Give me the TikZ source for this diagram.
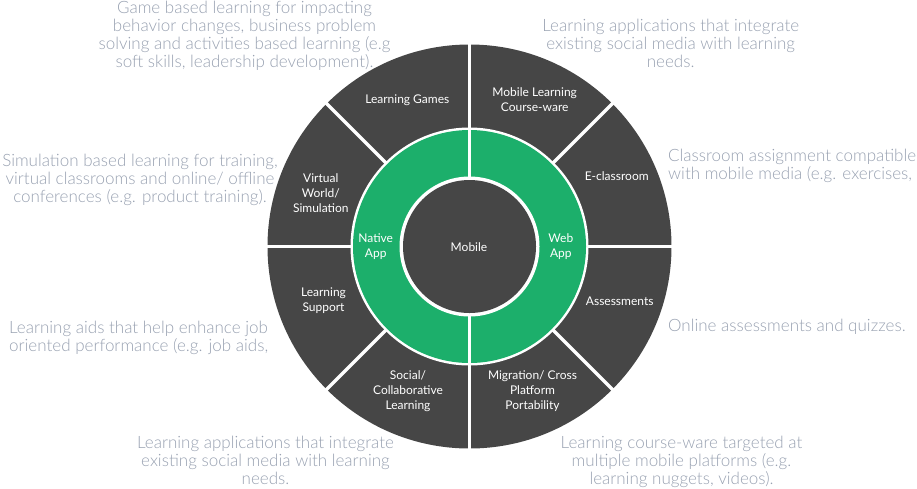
\documentclass[tikz,border=0pt]{standalone}
\usepackage{fontspec}
\setmainfont{Lato}
\newfontfamily\notefont{Lato Light}
\usetikzlibrary{calc}
\begin{document}
\definecolor{ringdark}{HTML}{464646}
\definecolor{ringgreen}{HTML}{1CAF6B}
\definecolor{notegray}{HTML}{98A1B1}
\begin{tikzpicture}[x=1pt,y=-1pt,
  seglabel/.style={text=white,font=\fontsize{12}{15}\selectfont,align=center,inner sep=0pt},
  note/.style={text=notegray,font=\notefont\fontsize{17}{18}\selectfont,inner sep=0pt},
  divider/.style={white,line width=3.5pt},
]
\useasboundingbox (0,0) rectangle (917,488);
\coordinate (c) at (469.5,246.5);
% outer ring of eight segments
\fill[ringdark] (c) circle[radius=202];
\foreach \a in {0,45,...,315}
  \draw[divider] ($(c)+(\a:117)$) -- ($(c)+(\a:206)$);
% green ring split into two halves
\fill[white] (c) circle[radius=119];
\fill[ringgreen] (c) circle[radius=116.5];
\fill[white] (c) circle[radius=70];
\fill[ringdark] (c) circle[radius=66.5];
\draw[white,line width=3pt] ($(c)+(0,-118)$) -- ($(c)+(0,-67)$);
\draw[white,line width=3pt] ($(c)+(0,67)$) -- ($(c)+(0,118)$);

% segment labels
\node[seglabel] (mobile) at (469,247) {Mobile};
\node[seglabel] (native) at (375.7,246.5) {Native\\App};
\node[seglabel] (web) at (560.8,246.5) {Web\\App};
\node[seglabel] (games) at (407.3,100) {Learning Games};
\node[seglabel] (mcw) at (534.7,100) {Mobile Learning\\Course-ware};
\node[seglabel] (eclass) at (616.7,176) {E-classroom};
\node[seglabel] (assess) at (619.7,301) {Assessments};
\node[seglabel] (migr) at (532.5,391.5) {Migration/ Cross\\Platform\\Portability};
\node[seglabel] (social) at (408,391.5) {Social/\\Collaborative\\Learning};
\node[seglabel] (support) at (323.5,301) {Learning\\Support};
\node[seglabel] (virtual) at (320.8,193.5) {Virtual\\World/\\Simulation};

% descriptions around the wheel
\node[note,align=center] (gamesnote) at (244.5,36) {Game based learning for impacting\\behavior changes, business problem\\solving and activities based learning (e.g\\soft skills, leadership development).};
\node[note,align=center] (virtualnote) at (140,179.5) {Simulation based learning for training,\\virtual classrooms and online/ offline\\conferences (e.g. product training).};
\node[note,align=left,anchor=west] (supportnote) at (9,338) {Learning aids that help enhance job\\oriented performance (e.g. job aids,};
\node[note,align=center] (socialnote) at (265.5,460.5) {Learning applications that integrate\\existing social media with learning\\needs.};
\node[note,align=center] (mcwnote) at (670.7,43.5) {Learning applications that integrate\\existing social media with learning\\needs.};
\node[note,align=left,anchor=west] (eclassnote) at (668,166) {Classroom assignment compatible\\with mobile media (e.g. exercises,};
\node[note,anchor=west] (assessnote) at (668,327) {Online assessments and quizzes.};
\node[note,align=center] (migrnote) at (681.5,461.5) {Learning course-ware targeted at\\multiple mobile platforms (e.g.\\learning nuggets, videos).};
\end{tikzpicture}
\end{document}
